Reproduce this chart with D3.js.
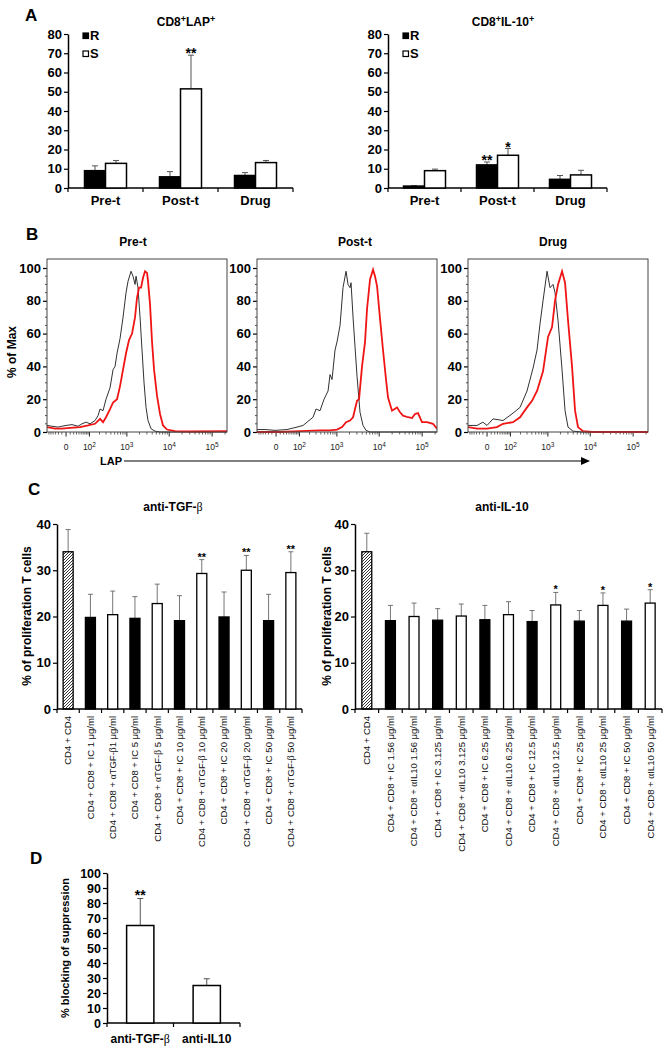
<!DOCTYPE html>
<html>
<head>
<meta charset="utf-8">
<script src="https://cdn.jsdelivr.net/npm/d3@7"></script>
<style>
  body { margin: 0; background: #fff; }
  svg { display: block; }
</style>
</head>
<body>
<svg id="fig" width="668" height="1050"></svg>
<script>
// ---- panel A: % of CD8 cells ----
var phases = ["Pre-t", "Post-t", "Drug"];
var lapR = [9, 5.8, 6.5];
var lapRsd = [2.5, 2.7, 1.5];
var lapS = [12.8, 51.5, 13.2];
var lapSsd = [1.5, 17.5, 1.1];
var lapRstar = ["", "", ""];
var lapSstar = ["", "**", ""];
var il10R = [1, 12, 4.5];
var il10Rsd = [0.2, 1.5, 2];
var il10S = [9, 17, 6.8];
var il10Ssd = [0.8, 3.5, 2.4];
var il10Rstar = ["", "**", ""];
var il10Sstar = ["", "*", ""];
var aTicks = [0, 10, 20, 30, 40, 50, 60, 70, 80];

// ---- panel B: LAP histograms [intensity, % of max] ----
var preBlack = [[-71,4],[-45,3.5],[-21,3],[-10,3.5],[0,4],[15,4.5],[36,3.5],[54,5],[77,6],[105,5],[149,7],[182,10],[207,14],[250,13],[300,20],[382,27],[456,38],[512,40],[574,48],[681,57],[807,70],[954,85],[1068,92],[1260,98],[1404,95],[1571,90],[1660,95],[1848,88],[2064,70],[2300,50],[2568,30],[2860,15],[3188,7],[3752,2],[4660,0.5],[6100,0],[221800,0]];
var preRed = [[-71,3],[-32,2],[-10,2],[10,2.5],[45,3],[90,4],[149,5],[207,8],[250,6],[300,9],[382,14],[456,18],[574,20],[681,28],[807,38],[954,48],[1127,56],[1332,60],[1571,70],[1752,82],[1956,88],[2180,88],[2432,94],[2708,98],[3020,97],[3188,92],[3552,78],[3960,55],[4416,38],[5188,22],[6100,11],[7172,4],[8896,1.5],[13672,0.5],[30580,0.3],[221800,0.5]];
var postBlack = [[-71,1.5],[-32,1.5],[-2,1],[32,1.5],[83,3],[130,4],[170,6],[250,9],[300,14],[382,13],[483,20],[608,25],[681,35],[762,32],[902,50],[1009,55],[1192,65],[1404,88],[1660,98],[1848,90],[2064,88],[2180,91],[2432,70],[2708,52],[3020,34],[3552,12],[4180,4],[4916,1],[6100,0],[221800,0]];
var postRed = [[-71,0],[10,0],[105,0.5],[382,1],[681,1],[1009,1.5],[1332,3],[1660,6],[2064,7],[2432,9],[3020,19],[3370,20],[3960,40],[4660,55],[5188,75],[6100,93],[7172,99],[7980,95],[8896,89],[10456,69],[12270,50],[14420,32],[16060,21],[19900,13],[26020,15],[30580,12],[35870,10],[46920,9],[58160,8.5],[68350,11],[80160,11.5],[99280,6],[130000,6],[179100,5],[221800,2]];
var drugBlack = [[-71,4],[-28,4],[-10,6],[0,4],[15,8],[54,7],[112,11],[194,15],[300,25],[430,39],[542,50],[643,66],[762,80],[954,98],[1127,88],[1332,90],[1484,85],[1752,68],[2180,38],[2568,13],[3020,3],[3960,0.5],[6436,0],[221800,0]];
var drugRed = [[-71,3],[-28,2],[0,2],[28,3],[54,5],[121,6],[194,9],[300,15],[405,19],[542,25],[762,37],[1009,58],[1260,64],[1484,80],[1752,90],[2180,98],[2568,91],[3020,68],[3752,40],[4416,13],[5188,3],[6792,0.5],[11030,0],[221800,0]];
var histXTicks = [0, 100, 1000, 10000, 100000];
var histXLabels = ["0", "10|2", "10|3", "10|4", "10|5"];
var histYTicks = [0, 20, 40, 60, 80, 100];

// ---- panel C: % of proliferating T cells ----
var tgfLabels = ["CD4 + CD4", "CD4 + CD8 + IC 1 μg/ml", "CD4 + CD8 + αTGF-β1 μg/ml", "CD4 + CD8 + IC 5 μg/ml",
  "CD4 + CD8 + αTGF-β 5 μg/ml", "CD4 + CD8 + IC 10 μg/ml", "CD4 + CD8 + αTGF-β 10 μg/ml", "CD4 + CD8 + IC 20 μg/ml",
  "CD4 + CD8 + αTGF-β 20 μg/ml", "CD4 + CD8 + IC 50 μg/ml", "CD4 + CD8 + αTGF-β 50 μg/ml"];
var tgfValues = [34, 19.8, 20.4, 19.6, 22.8, 19.1, 29.3, 19.9, 30, 19.1, 29.5];
var tgfSd = [4.8, 5, 5.1, 4.7, 4.2, 5.4, 3, 5.4, 3.2, 5.7, 4.5];
var tgfKind = ["hatch", "ic", "ab", "ic", "ab", "ic", "ab", "ic", "ab", "ic", "ab"];
var tgfStars = ["", "", "", "", "", "", "**", "", "**", "", "**"];

var il10Labels = ["CD4 + CD4", "CD4 + CD8 + IC 1.56  μg/ml", "CD4 + CD8 + αIL10 1.56  μg/ml", "CD4 + CD8 + IC 3.125  μg/ml",
  "CD4 + CD8 + αIL10 3.125  μg/ml", "CD4 + CD8 + IC 6.25  μg/ml", "CD4 + CD8 + αIL10 6.25  μg/ml", "CD4 + CD8 + IC 12.5  μg/ml",
  "CD4 + CD8 + αIL10 12.5  μg/ml", "CD4 + CD8 + IC 25  μg/ml", "CD4 + CD8 + αIL10 25  μg/ml", "CD4 + CD8 + IC 50  μg/ml",
  "CD4 + CD8 + αIL10 50  μg/ml"];
var il10Values = [34, 19.1, 20, 19.2, 20.1, 19.3, 20.4, 18.9, 22.5, 19, 22.4, 19, 22.9];
var il10Sd = [4, 3.3, 2.9, 2.5, 2.6, 3.1, 2.8, 2.4, 2.7, 2.3, 2.7, 2.6, 2.9];
var il10Kind = ["hatch", "ic", "ab", "ic", "ab", "ic", "ab", "ic", "ab", "ic", "ab", "ic", "ab"];
var il10Stars = ["", "", "", "", "", "", "", "", "*", "", "*", "", "*"];
var cTicks = [0, 10, 20, 30, 40];

// ---- panel D: % blocking of suppression ----
var blockLabels = ["anti-TGF-β", "anti-IL10"];
var blockValues = [65, 25];
var blockSd = [18, 4.5];
var blockStars = ["**", ""];
var dTicks = [0, 10, 20, 30, 40, 50, 60, 70, 80, 90, 100];

var FONT = '"Liberation Sans", Arial, Helvetica, sans-serif';
var SERIF = '"Liberation Serif", "DejaVu Serif", serif';
var svg = d3.select("#fig").attr("font-family", FONT);

// hatch pattern for the CD4 + CD4 control bar
svg.append("defs").append("pattern")
  .attr("id", "hatch")
  .attr("patternUnits", "userSpaceOnUse")
  .attr("width", 3).attr("height", 3)
  .append("path")
  .attr("d", "M-1,1 l2,-2 M0,3 l3,-3 M2,4 l2,-2")
  .attr("stroke", "#000").attr("stroke-width", 0.8);

function styleAxis(sel, size) {
  sel.attr("font-family", FONT).attr("font-size", size).attr("font-weight", "bold");
  sel.select(".domain").attr("stroke-width", 1.5);
  sel.selectAll(".tick line").attr("stroke-width", 1.2);
  sel.selectAll(".tick text").attr("fill", "#000");
}

// text with greek letters set in a serif face, like the original
function greekText(sel, str) {
  str.split(/([αβ])/).forEach(function (p) {
    if (!p) return;
    var t = sel.append("tspan").text(p);
    if (p === "α" || p === "β") t.attr("font-family", SERIF).attr("font-weight", "normal");
  });
}

function panelLetter(letter, x, y) {
  svg.append("text").attr("x", x).attr("y", y)
    .attr("font-size", 17).attr("font-weight", "bold").text(letter);
}

// ---------------- A ----------------
function drawPanelA(opt) {
  var g = svg.append("g");
  var x = d3.scaleBand().domain(phases).range([opt.x0, opt.x1]);
  var y = d3.scaleLinear().domain([0, 80]).range([188, 34]);
  var bw = 21;

  var ya = g.append("g").attr("transform", "translate(" + opt.x0 + ",0)")
    .call(d3.axisLeft(y).tickValues(aTicks).tickSize(4).tickSizeOuter(0).tickPadding(2));
  styleAxis(ya, 13);

  g.append("line").attr("x1", opt.x0).attr("x2", opt.x1)
    .attr("y1", y(0)).attr("y2", y(0)).attr("stroke", "#000").attr("stroke-width", 1.5);
  var bounds = [opt.x0].concat(phases.map(function (p) { return x(p) + x.bandwidth(); }));
  g.selectAll(".xt").data(bounds).join("line")
    .attr("x1", function (d) { return d; }).attr("x2", function (d) { return d; })
    .attr("y1", y(0)).attr("y2", y(0) + 4).attr("stroke", "#000").attr("stroke-width", 1.2);
  g.selectAll(".xl").data(phases).join("text")
    .attr("x", function (d) { return x(d) + x.bandwidth() / 2; })
    .attr("y", 205).attr("text-anchor", "middle")
    .attr("font-size", 13).attr("font-weight", "bold").text(function (d) { return d; });

  var series = [
    { vals: opt.r, sd: opt.rsd, stars: opt.rstar, fill: "#000", dx: -bw },
    { vals: opt.s, sd: opt.ssd, stars: opt.sstar, fill: "#fff", dx: 0 }
  ];
  series.forEach(function (s) {
    var cx = function (d, i) { return x(phases[i]) + x.bandwidth() / 2 + s.dx + bw / 2; };
    g.selectAll(null).data(s.vals).join("line")
      .attr("x1", cx).attr("x2", cx)
      .attr("y1", function (d) { return y(d); })
      .attr("y2", function (d, i) { return y(d + s.sd[i]); })
      .attr("stroke", "#555").attr("stroke-width", 1);
    g.selectAll(null).data(s.vals).join("line")
      .attr("x1", function (d, i) { return cx(d, i) - 3; })
      .attr("x2", function (d, i) { return cx(d, i) + 3; })
      .attr("y1", function (d, i) { return y(d + s.sd[i]); })
      .attr("y2", function (d, i) { return y(d + s.sd[i]); })
      .attr("stroke", "#555").attr("stroke-width", 1);
    g.selectAll(null).data(s.vals).join("rect")
      .attr("x", function (d, i) { return x(phases[i]) + x.bandwidth() / 2 + s.dx; })
      .attr("y", function (d) { return y(d); })
      .attr("width", bw)
      .attr("height", function (d) { return y(0) - y(d); })
      .attr("fill", s.fill).attr("stroke", "#000").attr("stroke-width", 1.5);
    g.selectAll(null).data(s.vals).join("text")
      .attr("x", cx)
      .attr("y", function (d, i) { return y(d + s.sd[i]) + 3; })
      .attr("text-anchor", "middle").attr("font-size", 14).attr("font-weight", "bold")
      .text(function (d, i) { return s.stars[i]; });
  });

  // legend
  [["R", "#000"], ["S", "#fff"]].forEach(function (l, i) {
    g.append("rect").attr("x", opt.x0 + 15).attr("y", 33 + i * 18)
      .attr("width", 5.5).attr("height", 5.5)
      .attr("fill", l[1]).attr("stroke", "#000").attr("stroke-width", 1.2);
    g.append("text").attr("x", opt.x0 + 22).attr("y", 40 + i * 18)
      .attr("font-size", 13).attr("font-weight", "bold").text(l[0]);
  });

  // title with superscripts
  var t = g.append("text").attr("x", opt.titleX).attr("y", 26)
    .attr("text-anchor", "middle").attr("font-size", 12).attr("font-weight", "bold");
  opt.title.forEach(function (p, i) {
    if (i % 2 === 0) t.append("tspan").attr("dy", i === 0 ? 0 : 4).attr("font-size", 12).text(p);
    else t.append("tspan").attr("dy", -4).attr("font-size", 9).text(p);
  });
}

panelLetter("A", 25, 21);
drawPanelA({ x0: 68, x1: 293, titleX: 186, title: ["CD8", "+", "LAP", "+"],
  r: lapR, rsd: lapRsd, rstar: lapRstar, s: lapS, ssd: lapSsd, sstar: lapSstar });
drawPanelA({ x0: 388, x1: 607, titleX: 503, title: ["CD8", "+", "IL-10", "+"],
  r: il10R, rsd: il10Rsd, rstar: il10Rstar, s: il10S, ssd: il10Ssd, sstar: il10Sstar });

// ---------------- B ----------------
function drawHist(left, title, titleX, black, red, idx) {
  var w = 180, top = 259;
  var x = d3.scaleSymlog().constant(40).domain([-71, 221800]).range([left, left + w]);
  var y = d3.scaleLinear().domain([0, 100]).range([432, 268]);
  var g = svg.append("g");

  g.append("text").attr("x", titleX).attr("y", 246).attr("text-anchor", "middle")
    .attr("font-size", 12).attr("font-weight", "bold").text(title);

  g.append("clipPath").attr("id", "clip" + idx).append("rect")
    .attr("x", left).attr("y", top).attr("width", w).attr("height", y(0) - top + 1);

  // y ticks
  var minorY = d3.range(0, 101, 5).filter(function (d) { return d % 20 !== 0; });
  g.selectAll(null).data(minorY).join("line")
    .attr("x1", left - 2).attr("x2", left).attr("y1", y).attr("y2", y)
    .attr("stroke", "#222").attr("stroke-width", 0.8);
  var ya = g.append("g").attr("transform", "translate(" + left + ",0)")
    .call(d3.axisLeft(y).tickValues(histYTicks).tickSize(4).tickSizeOuter(0).tickPadding(2));
  styleAxis(ya, 13);
  ya.select(".domain").remove();

  // x ticks (biexponential style)
  var minorX = [-60, -50, -40, -30, -20, -10, 10, 20, 30, 40, 50, 60, 70, 80, 90];
  [100, 1000, 10000, 100000].forEach(function (dec) {
    for (var k = 2; k <= 9; k++) if (dec * k < 221800) minorX.push(dec * k);
  });
  g.selectAll(null).data(minorX).join("line")
    .attr("x1", x).attr("x2", x).attr("y1", y(0)).attr("y2", y(0) + 2.5)
    .attr("stroke", "#222").attr("stroke-width", 0.7);
  g.selectAll(null).data(histXTicks).join("line")
    .attr("x1", x).attr("x2", x).attr("y1", y(0)).attr("y2", y(0) + 4.5)
    .attr("stroke", "#222").attr("stroke-width", 1);
  histXTicks.forEach(function (v, i) {
    var parts = histXLabels[i].split("|");
    var t = g.append("text").attr("x", x(v)).attr("y", 450)
      .attr("text-anchor", "middle").attr("font-size", 8.5).attr("fill", "#222");
    t.append("tspan").text(parts[0]);
    if (parts[1]) t.append("tspan").attr("dy", -3.5).attr("font-size", 6.5).text(parts[1]);
  });

  var line = d3.line().x(function (d) { return x(d[0]); }).y(function (d) { return y(d[1]); });
  var plot = g.append("g").attr("clip-path", "url(#clip" + idx + ")");
  plot.append("path").datum(black).attr("d", line)
    .attr("fill", "none").attr("stroke", "#1a1a1a").attr("stroke-width", 0.9);
  plot.append("path").datum(red).attr("d", line)
    .attr("fill", "none").attr("stroke", "#f01414").attr("stroke-width", 1.8);

  g.append("rect").attr("x", left).attr("y", top).attr("width", w).attr("height", y(0) - top)
    .attr("fill", "none").attr("stroke", "#444").attr("stroke-width", 1);
}

panelLetter("B", 26, 240);
drawHist(47, "Pre-t", 133, preBlack, preRed, 0);
drawHist(257, "Post-t", 355, postBlack, postRed, 1);
drawHist(468, "Drug", 553, drugBlack, drugRed, 2);

svg.append("text").attr("transform", "translate(16,352) rotate(-90)")
  .attr("text-anchor", "middle").attr("font-size", 12).attr("font-weight", "bold").text("% of Max");
svg.append("text").attr("x", 100).attr("y", 465)
  .attr("font-size", 11).attr("font-weight", "bold").text("LAP");
svg.append("line").attr("x1", 124).attr("x2", 582).attr("y1", 461).attr("y2", 461)
  .attr("stroke", "#000").attr("stroke-width", 1.2);
svg.append("path").attr("d", "M581,457 L590,461 L581,465 Z").attr("fill", "#000");

// ---------------- C ----------------
function drawPanelC(opt) {
  var g = svg.append("g");
  var n = opt.values.length;
  var y = d3.scaleLinear().domain([0, 40]).range([709, 524]);
  var x = d3.scaleBand().domain(d3.range(n)).range([opt.x0, opt.x1])
    .paddingInner(opt.pad).paddingOuter(opt.pad / 2);
  var cx = function (d, i) { return x(i) + x.bandwidth() / 2; };

  var ya = g.append("g").attr("transform", "translate(" + opt.x0 + ",0)")
    .call(d3.axisLeft(y).tickValues(cTicks).tickSize(4).tickSizeOuter(0).tickPadding(2));
  styleAxis(ya, 13);

  g.append("line").attr("x1", opt.x0).attr("x2", opt.x1).attr("y1", y(0)).attr("y2", y(0))
    .attr("stroke", "#000").attr("stroke-width", 1.5);
  var bounds = d3.range(n + 1).map(function (i) { return opt.x0 + i * x.step(); });
  g.selectAll(null).data(bounds).join("line")
    .attr("x1", function (d) { return d; }).attr("x2", function (d) { return d; })
    .attr("y1", y(0)).attr("y2", y(0) + 4).attr("stroke", "#000").attr("stroke-width", 1.2);

  // error bars
  g.selectAll(null).data(opt.values).join("line")
    .attr("x1", cx).attr("x2", cx)
    .attr("y1", function (d) { return y(d); })
    .attr("y2", function (d, i) { return y(d + opt.sd[i]); })
    .attr("stroke", "#666").attr("stroke-width", 0.9);
  g.selectAll(null).data(opt.values).join("line")
    .attr("x1", function (d, i) { return cx(d, i) - 2.5; })
    .attr("x2", function (d, i) { return cx(d, i) + 2.5; })
    .attr("y1", function (d, i) { return y(d + opt.sd[i]); })
    .attr("y2", function (d, i) { return y(d + opt.sd[i]); })
    .attr("stroke", "#666").attr("stroke-width", 0.9);

  g.selectAll(null).data(opt.values).join("rect")
    .attr("x", function (d, i) { return x(i); })
    .attr("y", function (d) { return y(d); })
    .attr("width", x.bandwidth())
    .attr("height", function (d) { return y(0) - y(d); })
    .attr("fill", function (d, i) {
      return opt.kind[i] === "hatch" ? "url(#hatch)" : (opt.kind[i] === "ic" ? "#000" : "#fff");
    })
    .attr("stroke", "#000").attr("stroke-width", 1.3);

  g.selectAll(null).data(opt.values).join("text")
    .attr("x", cx)
    .attr("y", function (d, i) { return y(d + opt.sd[i]) + 1; })
    .attr("text-anchor", "middle").attr("font-size", 11).attr("font-weight", "bold")
    .text(function (d, i) { return opt.stars[i]; });

  // rotated category labels
  opt.labels.forEach(function (lab, i) {
    var t = g.append("text")
      .attr("transform", "translate(" + cx(0, i) + ",716) rotate(-90)")
      .attr("text-anchor", "end").attr("dy", "0.35em")
      .attr("font-size", 9.5).attr("fill", "#111");
    greekText(t, lab);
  });

  var tt = g.append("text").attr("x", opt.titleX).attr("y", 511).attr("text-anchor", "middle")
    .attr("font-size", 12).attr("font-weight", "bold");
  greekText(tt, opt.title);

  g.append("text").attr("transform", "translate(" + opt.ylabX + ",616) rotate(-90)")
    .attr("text-anchor", "middle").attr("dy", "0.35em")
    .attr("font-size", 12).attr("font-weight", "bold").text("% of proliferation T cells");
}

panelLetter("C", 28, 495);
drawPanelC({ x0: 57, x1: 302, pad: 0.55, labels: tgfLabels, values: tgfValues, sd: tgfSd,
  kind: tgfKind, stars: tgfStars, title: "anti-TGF-β", titleX: 173, ylabX: 27 });
drawPanelC({ x0: 355, x1: 662, pad: 0.58, labels: il10Labels, values: il10Values, sd: il10Sd,
  kind: il10Kind, stars: il10Stars, title: "anti-IL-10", titleX: 502, ylabX: 327 });

// ---------------- D ----------------
(function () {
  var g = svg.append("g");
  var y = d3.scaleLinear().domain([0, 100]).range([1023, 873]);
  var x = d3.scaleBand().domain(blockLabels).range([107, 240]).paddingInner(0.59).paddingOuter(0.295);
  var cx = function (d, i) { return x(blockLabels[i]) + x.bandwidth() / 2; };

  var ya = g.append("g").attr("transform", "translate(107,0)")
    .call(d3.axisLeft(y).tickValues(dTicks).tickSize(4).tickSizeOuter(0).tickPadding(2));
  styleAxis(ya, 12.5);

  g.append("line").attr("x1", 107).attr("x2", 240).attr("y1", y(0)).attr("y2", y(0))
    .attr("stroke", "#000").attr("stroke-width", 1.5);
  var bounds = d3.range(blockLabels.length + 1).map(function (i) { return 107 + i * x.step(); });
  g.selectAll(null).data(bounds).join("line")
    .attr("x1", function (d) { return d; }).attr("x2", function (d) { return d; })
    .attr("y1", y(0)).attr("y2", y(0) + 4).attr("stroke", "#000").attr("stroke-width", 1.2);

  g.selectAll(null).data(blockValues).join("line")
    .attr("x1", cx).attr("x2", cx)
    .attr("y1", function (d) { return y(d); })
    .attr("y2", function (d, i) { return y(d + blockSd[i]); })
    .attr("stroke", "#555").attr("stroke-width", 1);
  g.selectAll(null).data(blockValues).join("line")
    .attr("x1", function (d, i) { return cx(d, i) - 3; })
    .attr("x2", function (d, i) { return cx(d, i) + 3; })
    .attr("y1", function (d, i) { return y(d + blockSd[i]); })
    .attr("y2", function (d, i) { return y(d + blockSd[i]); })
    .attr("stroke", "#555").attr("stroke-width", 1);

  g.selectAll(null).data(blockValues).join("rect")
    .attr("x", function (d, i) { return x(blockLabels[i]); })
    .attr("y", function (d) { return y(d); })
    .attr("width", x.bandwidth())
    .attr("height", function (d) { return y(0) - y(d); })
    .attr("fill", "#fff").attr("stroke", "#000").attr("stroke-width", 1.5);

  g.selectAll(null).data(blockValues).join("text")
    .attr("x", cx)
    .attr("y", function (d, i) { return y(d + blockSd[i]) + 1; })
    .attr("text-anchor", "middle").attr("font-size", 14).attr("font-weight", "bold")
    .text(function (d, i) { return blockStars[i]; });

  blockLabels.forEach(function (lab, i) {
    var t = g.append("text").attr("x", cx(0, i)).attr("y", 1043)
      .attr("text-anchor", "middle").attr("font-size", 12).attr("font-weight", "bold");
    greekText(t, lab);
  });

  g.append("text").attr("transform", "translate(65,948) rotate(-90)")
    .attr("text-anchor", "middle").attr("dy", "0.35em")
    .attr("font-size", 11).attr("font-weight", "bold").text("% blocking of suppression");
})();
panelLetter("D", 30, 864);
</script>
</body>
</html>
